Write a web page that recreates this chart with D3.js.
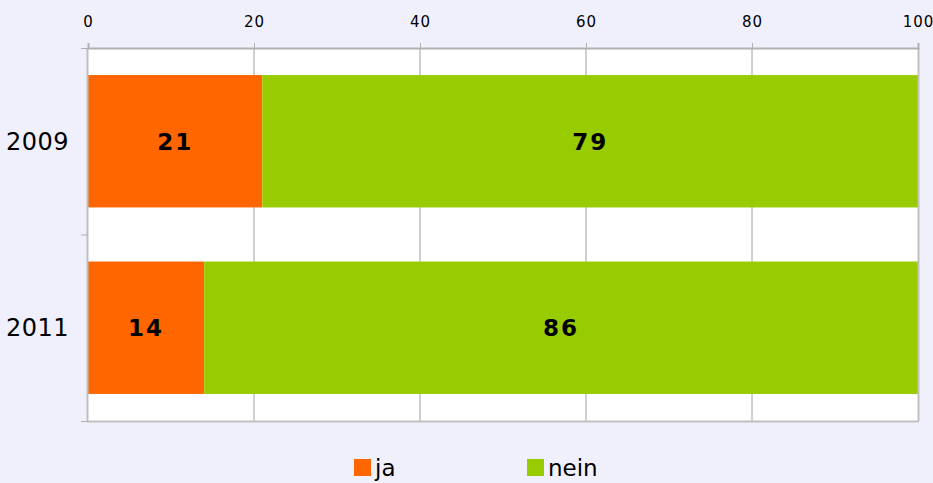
<!DOCTYPE html>
<html>
<head>
<meta charset="utf-8">
<script src="https://cdn.jsdelivr.net/npm/d3@7"></script>
<style>
  body { margin: 0; background: #f0f0fd; }
  svg { display: block; font-family: "DejaVu Sans", sans-serif; }
</style>
</head>
<body>
<div id="chart-area"></div>
<script>
const years = ["2009", "2011"];
const ja = [21, 14];
const nein = [79, 86];
const xTicks = [0, 20, 40, 60, 80, 100];
const seriesNames = ["ja", "nein"];
const seriesColors = ["#ff6600", "#99cc00"];

const width = 933, height = 483;
const margin = { top: 48, right: 15, bottom: 62, left: 88 };

const svg = d3.select("#chart-area").append("svg")
    .attr("width", width)
    .attr("height", height);

svg.append("rect")
    .attr("width", width).attr("height", height)
    .attr("fill", "#f0f0fd");

const x = d3.scaleLinear().domain([0, 100])
    .range([margin.left, width - margin.right]);
const y = d3.scaleBand().domain(years)
    .range([margin.top, height - margin.bottom])
    .paddingInner(0.29).paddingOuter(0.145);

// plot area
svg.append("rect")
    .attr("x", x(0)).attr("y", margin.top)
    .attr("width", x(100) - x(0))
    .attr("height", height - margin.bottom - margin.top)
    .attr("fill", "#ffffff");

// grid lines
svg.append("g")
    .selectAll("line")
    .data(xTicks.slice(1, -1))
    .enter().append("line")
    .attr("x1", d => x(d)).attr("x2", d => x(d))
    .attr("y1", margin.top).attr("y2", height - margin.bottom)
    .attr("stroke", "#a0a0a0").attr("stroke-width", 1);

// stacked bars
const rows = years.map((yr, i) => ({ year: yr, ja: ja[i], nein: nein[i] }));
const stacked = d3.stack().keys(seriesNames)(rows);

const layers = svg.append("g").selectAll("g")
    .data(stacked)
    .enter().append("g")
    .attr("fill", (d, i) => seriesColors[i]);

layers.selectAll("rect")
    .data(d => d)
    .enter().append("rect")
    .attr("x", d => x(d[0]))
    .attr("width", d => x(d[1]) - x(d[0]))
    .attr("y", d => y(d.data.year))
    .attr("height", y.bandwidth());

layers.selectAll("text")
    .data(d => d)
    .enter().append("text")
    .attr("x", d => (x(d[0]) + x(d[1])) / 2)
    .attr("y", d => y(d.data.year) + y.bandwidth() / 2)
    .attr("dy", "0.36em")
    .attr("text-anchor", "middle")
    .attr("font-size", 23)
    .attr("font-weight", "bold")
    .attr("letter-spacing", 2)
    .attr("fill", "#000")
    .text(d => d[1] - d[0]);

// frame: left, right and bottom gray border
const bottom = height - margin.bottom;
svg.append("line")
    .attr("x1", x(0) - 0.5).attr("x2", x(0) - 0.5)
    .attr("y1", margin.top).attr("y2", bottom + 1)
    .attr("stroke", "#c0c0c0").attr("stroke-width", 2);
svg.append("line")
    .attr("x1", x(0) - 1).attr("x2", x(100) + 1)
    .attr("y1", bottom + 0.5).attr("y2", bottom + 0.5)
    .attr("stroke", "#c0c0c0").attr("stroke-width", 2);
svg.append("line")
    .attr("x1", x(100) + 0.5).attr("x2", x(100) + 0.5)
    .attr("y1", margin.top).attr("y2", bottom)
    .attr("stroke", "#c0c0c0").attr("stroke-width", 2);

const xAxis = svg.append("g")
    .attr("transform", `translate(0,${margin.top})`)
    .call(d3.axisTop(x).tickValues(xTicks).tickSize(5).tickPadding(16));
xAxis.select(".domain").attr("stroke", "#b0b0b0").attr("stroke-width", 2);
xAxis.selectAll(".tick line").attr("stroke", "#b0b0b0");
xAxis.selectAll("text")
    .attr("font-size", 15)
    .attr("letter-spacing", 1)
    .attr("font-family", "DejaVu Sans, sans-serif")
    .attr("fill", "#000");

// left ticks at band boundaries
const yEdges = [margin.top, (margin.top + bottom) / 2, bottom];
svg.append("g").selectAll("line")
    .data(yEdges)
    .enter().append("line")
    .attr("x1", x(0) - 7).attr("x2", x(0))
    .attr("y1", d => d + 0.5).attr("y2", d => d + 0.5)
    .attr("stroke", "#b0b0b0");

// year labels
svg.append("g").selectAll("text")
    .data(years)
    .enter().append("text")
    .attr("x", 69)
    .attr("y", d => y(d) + y.bandwidth() / 2)
    .attr("dy", "0.36em")
    .attr("text-anchor", "end")
    .attr("font-size", 24)
    .attr("letter-spacing", 0.5)
    .attr("fill", "#000")
    .text(d => d);

// legend
const legendX = [354, 527];
const legend = svg.append("g").selectAll("g")
    .data(seriesNames)
    .enter().append("g")
    .attr("transform", (d, i) => `translate(${legendX[i]},459)`);
legend.append("rect")
    .attr("width", 17).attr("height", 17)
    .attr("fill", (d, i) => seriesColors[i]);
legend.append("text")
    .attr("x", 21).attr("y", 17)
    .attr("font-size", 23)
    .attr("fill", "#000")
    .text(d => d);
</script>
</body>
</html>
